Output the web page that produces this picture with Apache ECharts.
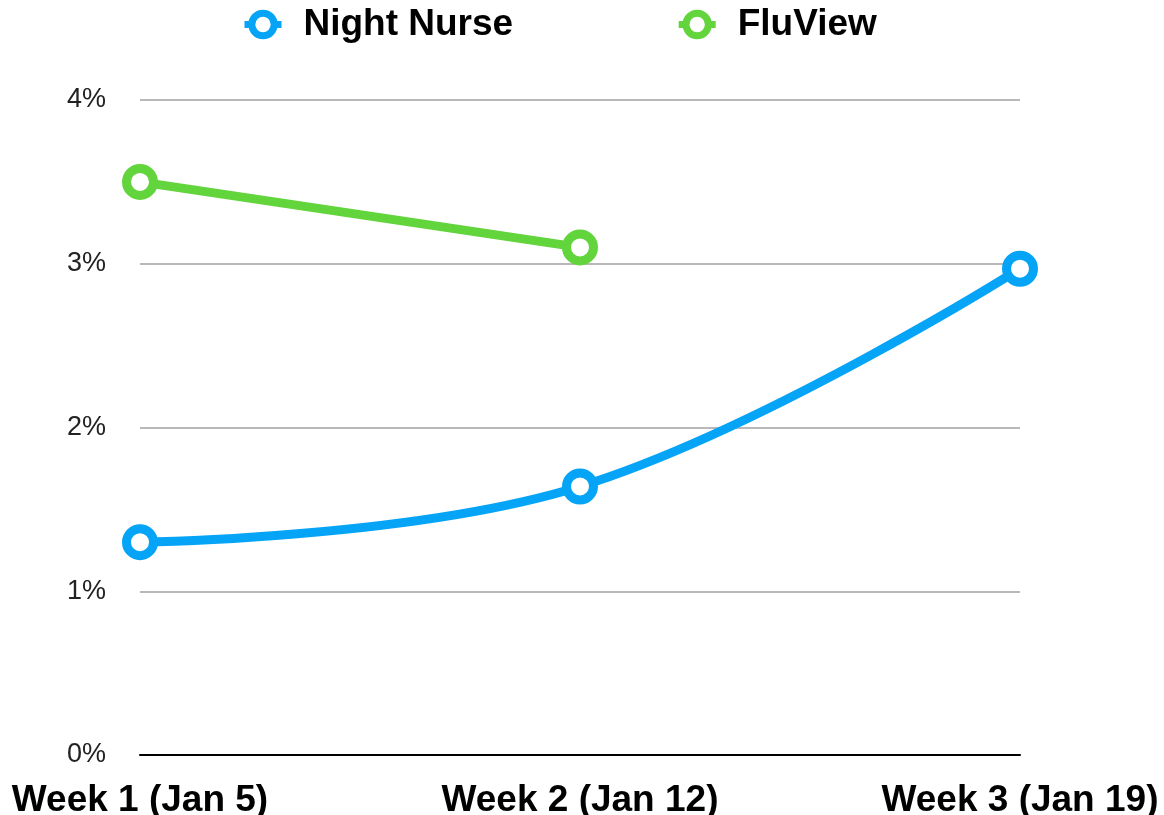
<!DOCTYPE html>
<html><head><meta charset="utf-8">
<script src="https://cdn.jsdelivr.net/npm/echarts@6/dist/echarts.min.js"></script>
<style>html,body{margin:0;padding:0;background:#fff}#c{width:1164px;height:815px}</style>
</head><body><div id="c"></div>
<script>
const categories = ['Week 1 (Jan 5)', 'Week 2 (Jan 12)', 'Week 3 (Jan 19)'];
const nightNurse = [1.3, 1.64, 2.97];
const fluView = [3.5, 3.1, null];
const yTicks = [0, 1, 2, 3, 4];

const BLUE = '#05a4f7', GREEN = '#62d43c';
const chart = echarts.init(document.getElementById('c'));
const font = '"Liberation Sans", Helvetica, Arial, sans-serif';
function series(name, data, color, smooth) {
  return {
    name, type: 'line', data, smooth,
    symbol: 'circle', symbolSize: 27, showSymbol: true,
    lineStyle: { width: 9, color },
    itemStyle: { color: '#fff', borderColor: color, borderWidth: 9 },
    connectNulls: false, z: 3
  };
}
chart.setOption({
  animation: false,
  textStyle: { fontFamily: font },
  legend: {
    top: 1, left: 236, itemGap: 162, itemWidth: 37, itemHeight: 28,
    data: [
      { name: 'Night Nurse', itemStyle: { color: '#fff', borderColor: BLUE, borderWidth: 7 }, lineStyle: { color: BLUE, width: 7 } },
      { name: 'FluView', itemStyle: { color: '#fff', borderColor: GREEN, borderWidth: 7 }, lineStyle: { color: GREEN, width: 7 } }
    ],
    textStyle: { fontSize: 37, fontWeight: 'bold', color: '#000', fontFamily: font, padding: [0, 0, 0, 17] }
  },
  grid: { left: 140, right: 144, top: 100, bottom: 60, containLabel: false, outerBoundsMode: 'none' },
  xAxis: {
    type: 'category', data: categories, boundaryGap: false,
    axisLine: { lineStyle: { color: '#000', width: 2 } },
    axisTick: { show: false },
    axisLabel: { fontSize: 37, fontWeight: 'bold', color: '#000', margin: 27, fontFamily: font, interval: 0 }
  },
  yAxis: {
    type: 'value', min: 0, max: 4, interval: 1,
    axisLine: { show: false }, axisTick: { show: false },
    axisLabel: { formatter: v => v + '%', fontSize: 27, color: '#222', margin: 34, fontFamily: font },
    splitLine: { lineStyle: { color: '#b8b8b8', width: 2 } }
  },
  series: [
    series('Night Nurse', nightNurse, BLUE, 0.4),
    series('FluView', fluView, GREEN, false)
  ]
});
</script></body></html>
